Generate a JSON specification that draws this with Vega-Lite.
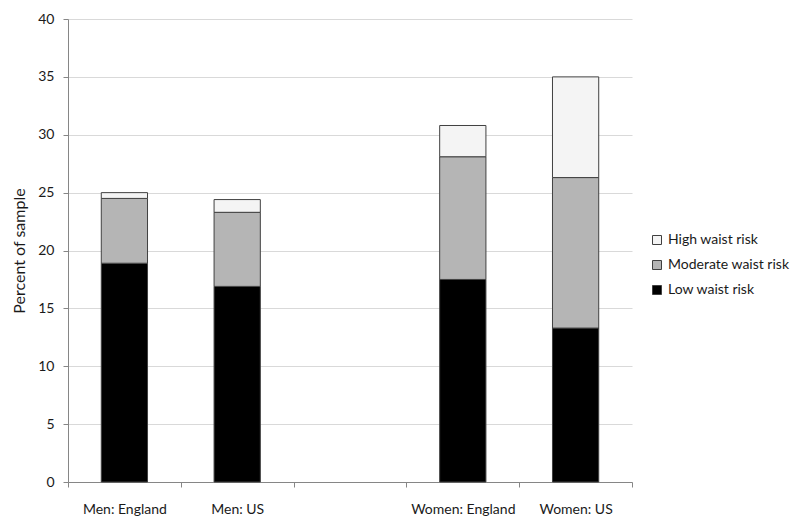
{
  "$schema": "https://vega.github.io/schema/vega-lite/v6.json",
  "width": 564,
  "height": 463,
  "autosize": "none",
  "padding": {"left": 68, "top": 19, "right": 163, "bottom": 44},
  "background": "white",
  "config": {
    "view": {"stroke": null},
    "font": "Lato",
    "axis": {"labelFont": "Lato", "titleFont": "Lato"},
    "legend": {"labelFont": "Lato"}
  },
  "data": {
    "values": [
      {"group": "Men: England", "risk": "Low waist risk", "level": 1, "value": 18.9},
      {"group": "Men: England", "risk": "Moderate waist risk", "level": 2, "value": 5.6},
      {"group": "Men: England", "risk": "High waist risk", "level": 3, "value": 0.5},
      {"group": "Men: US", "risk": "Low waist risk", "level": 1, "value": 16.9},
      {"group": "Men: US", "risk": "Moderate waist risk", "level": 2, "value": 6.4},
      {"group": "Men: US", "risk": "High waist risk", "level": 3, "value": 1.1},
      {"group": "Women: England", "risk": "Low waist risk", "level": 1, "value": 17.5},
      {"group": "Women: England", "risk": "Moderate waist risk", "level": 2, "value": 10.6},
      {"group": "Women: England", "risk": "High waist risk", "level": 3, "value": 2.7},
      {"group": "Women: US", "risk": "Low waist risk", "level": 1, "value": 13.3},
      {"group": "Women: US", "risk": "Moderate waist risk", "level": 2, "value": 13.0},
      {"group": "Women: US", "risk": "High waist risk", "level": 3, "value": 8.7}
    ]
  },
  "mark": {"type": "bar", "width": {"band": 0.41}, "stroke": "#404040", "strokeWidth": 1},
  "encoding": {
    "x": {
      "field": "group",
      "type": "nominal",
      "scale": {"domain": ["Men: England", "Men: US", " ", "Women: England", "Women: US"], "paddingInner": 0, "paddingOuter": 0},
      "axis": {
        "title": null,
        "labelAngle": 0,
        "tickBand": "extent",
        "tickSize": 5,
        "tickColor": "#868686",
        "domainColor": "#868686",
        "labelFontSize": 14,
        "labelColor": "#1a1a1a",
        "labelPadding": 15,
        "grid": false
      }
    },
    "y": {
      "field": "value",
      "type": "quantitative",
      "stack": "zero",
      "scale": {"domain": [0, 40], "nice": false},
      "axis": {
        "title": "Percent of sample",
        "titleFontSize": 16,
        "titleFontWeight": "normal",
        "titleColor": "#1a1a1a",
        "titlePadding": 10,
        "values": [0, 5, 10, 15, 20, 25, 30, 35, 40],
        "labelFontSize": 14,
        "labelColor": "#1a1a1a",
        "labelPadding": 9,
        "tickSize": 5,
        "tickColor": "#868686",
        "domainColor": "#868686",
        "gridColor": "#d9d9d9",
        "gridWidth": 1
      }
    },
    "color": {
      "field": "risk",
      "type": "nominal",
      "scale": {"domain": ["High waist risk", "Moderate waist risk", "Low waist risk"], "range": ["#f4f4f4", "#b5b5b5", "#000000"]},
      "legend": {
        "title": null,
        "orient": "none",
        "legendX": 582,
        "legendY": 214,
        "padding": 0,
        "symbolType": "square",
        "symbolSize": 81,
        "symbolStrokeColor": "#404040",
        "symbolStrokeWidth": 1,
        "labelFontSize": 14,
        "labelColor": "#1a1a1a",
        "labelOffset": 4,
        "rowPadding": 11
      }
    },
    "order": {"field": "level", "type": "quantitative", "sort": "ascending"}
  }
}
